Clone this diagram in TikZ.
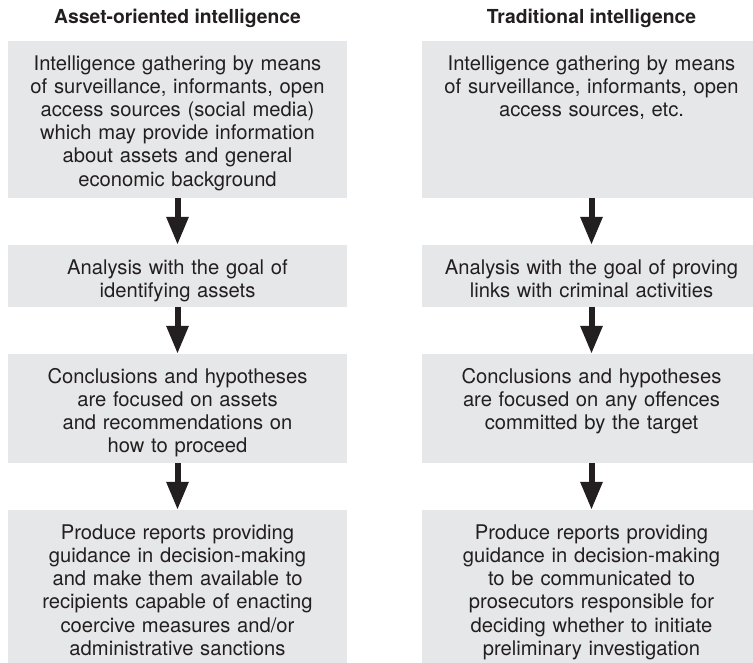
\documentclass[tikz,border=0pt]{standalone}
\usepackage{fontspec}
\setmainfont{TeX Gyre Heros}
\usetikzlibrary{arrows.meta}
\definecolor{boxgray}{RGB}{230,231,232}
\definecolor{ink}{RGB}{35,31,32}
\begin{document}
\begin{tikzpicture}[x=1pt,y=-1pt,
  box/.style={draw=none, fill=boxgray, rectangle, minimum width=339pt, inner sep=0pt},
  txt/.style={anchor=north, inner sep=0pt, text width=336pt, align=center, text=ink,
    font=\fontsize{20.2}{23.2}\selectfont},
  ttl/.style={anchor=base, inner sep=0pt, text=ink, font=\fontsize{19.3}{24}\selectfont\bfseries},
  arr/.style={draw=ink, line width=6pt, -{Triangle[width=21pt,length=28pt]}}
]
\clip (0,0) rectangle (753,663);
\fill[white] (0,0) rectangle (753,663);

% titles
\node[ttl] (hL) at (177.5,23.5) {Asset-oriented intelligence};
\node[ttl] (hR) at (591.5,23.5) {Traditional intelligence};

% boxes, left column
\node[box, minimum height=157pt] (b1L) at (177.5,119.5) {};
\node[box, minimum height=62pt]  (b2L) at (177.5,276) {};
\node[box, minimum height=109pt] (b3L) at (177.5,408.5) {};
\node[box, minimum height=160pt] (b4L) at (177.5,590) {};
% boxes, right column
\node[box, minimum height=157pt] (b1R) at (591.5,119.5) {};
\node[box, minimum height=62pt]  (b2R) at (591.5,276) {};
\node[box, minimum height=109pt] (b3R) at (591.5,408.5) {};
\node[box, minimum height=160pt] (b4R) at (591.5,590) {};

% texts, left column
\node[txt] (t1L) at (177.5,54) {\rule{0pt}{16pt}Intelligence gathering by means\\
  of surveillance, informants, open\\ access sources (social media)\\
  which may provide information\\ about assets and general\\ economic background};
\node[txt] (t2L) at (177.5,258) {\rule{0pt}{16pt}Analysis with the goal of\\ identifying assets};
\node[txt] (t3L) at (177.5,367) {\rule{0pt}{16pt}Conclusions and hypotheses\\
  are focused on assets\\ and recommendations on\\ how to proceed};
\node[txt] (t4L) at (177.5,523) {\rule{0pt}{16pt}Produce reports providing\\
  guidance in decision-making\\ and make them available to\\
  recipients capable of enacting\\ coercive measures and/or\\ administrative sanctions};

% texts, right column
\node[txt] (t1R) at (591.5,54) {\rule{0pt}{16pt}Intelligence gathering by means\\
  of surveillance, informants, open\\ access sources, etc.};
\node[txt] (t2R) at (591.5,258) {\rule{0pt}{16pt}Analysis with the goal of proving\\ links with criminal activities};
\node[txt] (t3R) at (591.5,367) {\rule{0pt}{16pt}Conclusions and hypotheses\\
  are focused on any offences\\ committed by the target};
\node[txt] (t4R) at (591.5,523) {\rule{0pt}{16pt}Produce reports providing\\
  guidance in decision-making\\ to be communicated to\\
  prosecutors responsible for\\ deciding whether to initiate\\ preliminary investigation};

% arrows
\draw[arr] (b1L.south) -- (b2L.north);
\draw[arr] (b2L.south) -- (b3L.north);
\draw[arr] (b3L.south) -- (b4L.north);
\draw[arr] (b1R.south) -- (b2R.north);
\draw[arr] (b2R.south) -- (b3R.north);
\draw[arr] (b3R.south) -- (b4R.north);
\end{tikzpicture}
\end{document}
